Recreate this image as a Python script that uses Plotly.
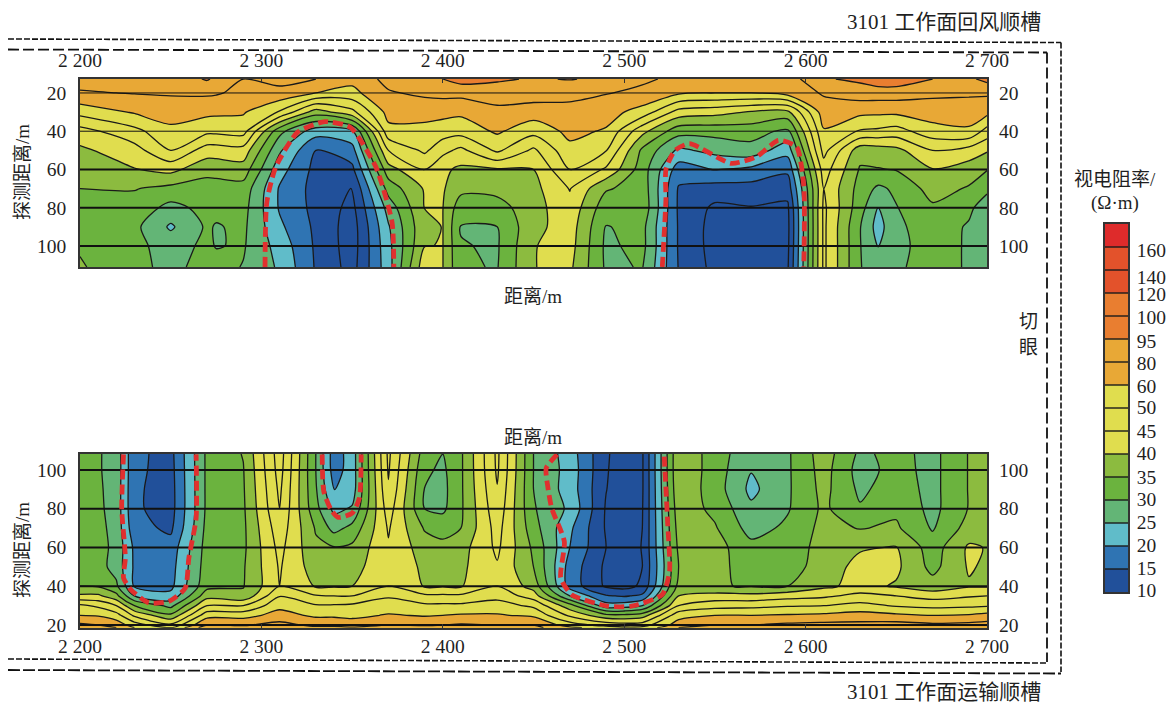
import numpy as np
import plotly.graph_objects as go

W, H = 1169, 703
SERIF = "Liberation Serif, Noto Sans CJK SC, serif"
INK = "#1f1f1f"

# Legend: boundary labels of the sixteen resistivity bands (ohm-m)
legend_labels = ["10", "15", "20", "25", "30", "35", "40", "45", "50", "60", "80", "95", "100", "120", "140", "160"]
legend_tick_pos = [0.09, 1.04, 2.04, 3.04, 4.04, 5.0, 6.04, 7.0, 8.04, 8.96, 9.96, 10.9, 11.96, 12.96, 13.7, 14.87]
band_colors = ["#21509a", "#2f74b3", "#60bcc9", "#63b576", "#6bb33e", "#8cbb3f", "#e0dd4e", "#e0dd4e",
               "#e0dd4e", "#e8a836", "#e8a836", "#e97e30", "#e97e30", "#e3522b", "#e3522b", "#de2b2b"]

x_ticks = [2200, 2300, 2400, 2500, 2600, 2700]
x_tick_labels = ["2 200", "2 300", "2 400", "2 500", "2 600", "2 700"]
depth_ticks = [20, 40, 60, 80, 100]

# Grid values are read as positions on the legend's scale (0 = 10, 1 = 15, ... 15 = 160 ohm-m)
upper_x = [2200, 2230, 2250, 2270, 2275, 2290, 2310, 2330, 2350, 2370, 2390, 2400, 2410, 2430, 2450, 2470, 2490,
           2510, 2530, 2550, 2570, 2590, 2610, 2630, 2640, 2650, 2670, 2690, 2700]
upper_depth = [12.7, 20, 30, 40, 50, 60, 70, 80, 90, 100, 111]
upper_columns = [
    [10.4, 9.9, 8.35, 6.6, 5.8, 5.4, 5.0, 4.9, 4.8, 4.9, 5.1],
    [10.9, 10.05, 9.1, 7.7, 6.6, 5.95, 5.05, 4.6, 4.25, 4.25, 4.3],
    [10.4, 10.1, 9.45, 8.75, 8.0, 6.3, 4.7, 3.7, 2.85, 3.6, 3.7],
    [11.1, 10.15, 9.25, 8.25, 6.5, 5.3, 4.6, 4.3, 4.15, 4.2, 4.4],
    [10.8, 10.1, 9.2, 8.25, 6.5, 5.35, 4.6, 4.3, 3.92, 3.95, 4.35],
    [10.0, 9.75, 9.1, 8.4, 6.6, 5.55, 4.6, 4.35, 4.2, 4.1, 3.95],
    [10.3, 9.7, 7.9, 4.3, 3.15, 2.4, 1.9, 1.9, 2.2, 2.6, 2.85],
    [10.0, 9.0, 5.5, 2.45, 1.0, 0.7, 0.65, 0.7, 0.8, 0.85, 0.9],
    [9.3, 8.7, 6.7, 2.8, 1.6, 0.75, -0.05, -0.3, -0.5, -0.5, -0.4],
    [10.3, 9.9, 9.35, 8.7, 7.0, 5.6, 4.4, 3.4, 2.9, 2.7, 2.6],
    [10.9, 10.2, 9.35, 8.7, 8.2, 7.0, 6.1, 6.02, 5.8, 5.98, 6.6],
    [11.0, 10.3, 9.3, 8.5, 7.3, 6.2, 6.1, 6.02, 6.02, 6.02, 6.02],
    [11.4, 10.3, 9.2, 8.4, 6.75, 5.8, 5.3, 4.4, 3.95, 4.05, 4.1],
    [11.15, 10.45, 9.75, 9.15, 8.2, 5.9, 5.3, 4.6, 4.0, 3.9, 3.95],
    [10.9, 10.5, 9.5, 8.35, 6.8, 6.0, 5.7, 5.6, 5.7, 5.95, 5.98],
    [11.05, 10.3, 9.65, 9.25, 8.75, 8.0, 7.05, 6.7, 6.5, 6.4, 6.2],
    [10.8, 10.05, 9.4, 8.9, 8.05, 6.85, 5.1, 4.4, 3.95, 3.8, 3.85],
    [10.15, 9.8, 8.6, 6.3, 4.8, 4.5, 4.6, 4.7, 4.3, 4.3, 4.05],
    [9.8, 9.15, 6.6, 4.4, 2.8, 1.5, 0.9, 0.85, 0.9, 0.9, 0.95],
    [9.7, 9.0, 6.35, 4.35, 3.3, 2.05, 0.55, -0.2, -0.4, -0.4, -0.3],
    [9.8, 9.0, 5.9, 4.45, 3.6, 1.75, 0.6, -0.05, -0.3, -0.4, -0.4],
    [9.5, 9.4, 5.7, 3.75, 2.4, 1.2, 0.4, -0.2, -0.3, -0.25, -0.15],
    [10.9, 10.1, 9.55, 8.9, 8.35, 7.5, 7.0, 7.2, 7.2, 7.2, 7.2],
    [11.2, 10.5, 9.25, 7.9, 5.4, 4.9, 4.6, 4.4, 4.05, 4.05, 4.05],
    [11.6, 10.5, 9.2, 7.8, 5.5, 4.95, 3.8, 3.0, 2.6, 2.98, 3.5],
    [11.6, 10.5, 9.2, 7.6, 5.7, 5.05, 4.2, 3.95, 3.8, 3.75, 3.85],
    [11.0, 10.2, 9.5, 8.6, 7.0, 5.95, 5.4, 4.85, 4.5, 4.4, 4.4],
    [10.8, 10.15, 9.45, 8.85, 6.6, 5.5, 4.9, 4.2, 3.9, 3.9, 3.9],
    [11.3, 10.15, 9.3, 7.6, 6.1, 5.05, 4.2, 3.5, 3.3, 3.3, 3.3],
]

lower_x = [2200, 2210, 2220, 2230, 2250, 2270, 2290, 2310, 2330, 2340, 2350, 2370, 2390, 2400, 2410, 2430, 2450, 2470,
           2490, 2500, 2510, 2530, 2550, 2570, 2590, 2610, 2630, 2650, 2670, 2690, 2700]
lower_depth = [108.2, 100, 90, 80, 70, 60, 50, 40, 35, 30, 25, 20, 18.6]
lower_columns = [
    [4.4, 4.4, 4.4, 4.4, 4.4, 4.4, 4.4, 5.0, 6.2, 8.2, 9.0, 10.2, 11.0],
    [4.1, 4.1, 4.15, 4.2, 4.3, 4.4, 4.4, 4.9, 6.2, 7.8, 8.9, 10.0, 10.6],
    [3.6, 3.6, 3.6, 3.6, 3.65, 3.7, 3.6, 4.2, 5.3, 7.0, 8.4, 9.6, 10.0],
    [1.2, 1.2, 1.15, 1.15, 1.35, 1.8, 1.85, 1.9, 3.0, 5.0, 6.8, 8.5, 9.0],
    [0.7, 0.65, 0.6, 0.6, 0.8, 1.4, 1.6, 1.75, 2.3, 3.7, 5.2, 7.2, 8.0],
    [4.2, 4.2, 4.2, 4.2, 4.3, 4.4, 4.5, 4.7, 5.6, 7.0, 8.6, 10.0, 10.6],
    [5.05, 4.95, 4.9, 4.85, 4.8, 4.8, 4.9, 4.95, 5.2, 7.0, 8.6, 9.9, 10.3],
    [8.5, 8.4, 8.2, 8.0, 7.6, 7.3, 7.1, 7.0, 7.95, 8.7, 9.4, 10.3, 10.8],
    [4.0, 4.0, 4.1, 4.3, 4.9, 5.2, 5.5, 5.9, 7.1, 8.1, 8.8, 9.8, 10.2],
    [1.5, 1.55, 1.95, 2.75, 3.65, 5.05, 5.5, 5.9, 7.0, 8.1, 8.8, 9.8, 10.2],
    [2.45, 2.45, 2.5, 3.1, 4.3, 5.2, 5.6, 6.0, 7.0, 8.2, 8.7, 9.6, 10.1],
    [8.2, 8.1, 7.9, 7.5, 7.1, 6.9, 6.8, 7.0, 7.9, 8.4, 9.1, 10.0, 10.4],
    [4.5, 4.2, 3.97, 4.0, 4.9, 5.5, 5.8, 5.9, 7.2, 8.2, 8.9, 9.9, 10.4],
    [4.0, 3.8, 3.7, 3.8, 4.6, 5.3, 5.7, 5.9, 7.2, 8.2, 9.0, 10.0, 10.4],
    [4.85, 4.85, 4.85, 4.85, 5.0, 5.6, 5.8, 5.9, 7.2, 8.2, 9.1, 10.1, 10.5],
    [8.2, 8.15, 7.95, 7.7, 7.4, 7.2, 6.9, 7.0, 7.7, 8.4, 9.1, 10.0, 10.3],
    [4.0, 4.0, 4.0, 4.1, 4.4, 4.8, 5.0, 5.6, 6.5, 7.8, 8.8, 10.0, 10.3],
    [2.5, 2.6, 2.55, 2.8, 2.2, 2.0, 1.6, 1.6, 3.0, 5.4, 6.8, 8.5, 9.2],
    [0.15, 0.1, 0.03, -0.1, -0.1, 0.0, -0.2, -0.15, 1.1, 2.4, 5.3, 7.6, 8.6],
    [-0.6, -0.6, -0.6, -0.7, -0.7, -0.6, -0.6, -0.35, 0.9, 2.5, 5.2, 7.4, 8.2],
    [-0.1, -0.1, -0.1, -0.05, 0.0, 0.05, 0.0, 0.2, 1.2, 3.0, 5.5, 7.5, 8.3],
    [5.9, 5.9, 5.8, 5.6, 5.4, 5.2, 5.0, 5.3, 6.0, 7.0, 8.6, 9.5, 10.0],
    [4.5, 4.5, 4.5, 4.75, 5.1, 5.4, 5.35, 5.05, 6.4, 7.6, 9.0, 10.0, 10.5],
    [3.3, 3.05, 2.75, 3.2, 3.6, 4.3, 4.5, 4.95, 6.3, 7.7, 9.0, 10.0, 10.5],
    [3.85, 3.85, 3.85, 3.9, 4.2, 4.4, 4.5, 5.0, 6.6, 7.9, 9.1, 10.2, 10.6],
    [5.5, 5.4, 5.3, 5.2, 5.3, 5.4, 5.5, 5.8, 6.8, 8.0, 9.2, 10.3, 10.8],
    [3.8, 3.6, 3.8, 4.1, 4.95, 5.9, 6.3, 6.3, 7.3, 8.3, 9.4, 10.3, 10.7],
    [4.3, 4.35, 4.5, 4.8, 5.15, 6.05, 6.2, 5.9, 7.0, 7.9, 9.2, 10.4, 10.7],
    [3.7, 3.7, 3.7, 3.7, 3.9, 4.5, 4.7, 5.4, 6.6, 7.7, 9.0, 10.2, 10.6],
    [5.05, 5.05, 5.05, 5.05, 5.4, 6.15, 6.1, 5.9, 6.9, 7.8, 9.1, 10.3, 10.7],
    [5.3, 5.3, 5.3, 5.4, 5.5, 5.95, 5.85, 5.9, 7.0, 7.9, 9.3, 10.4, 10.8],
]

# Red dashed anomaly outlines: distance (m) and probing depth (m)
upper_red_x = [[2302, 2303, 2308, 2320, 2335, 2349, 2363, 2372, 2373],
               [2521, 2523, 2523, 2528, 2536, 2559, 2573, 2585, 2595, 2599, 2599]]
upper_red_d = [[111, 77, 58.5, 40.5, 35, 38, 58.5, 87.5, 111],
               [111, 75.6, 60, 50, 46.5, 56.8, 53.3, 44.8, 48.2, 68.7, 111]]
lower_red_x = [[2224, 2223, 2225, 2224, 2228, 2238, 2249, 2258, 2260, 2264, 2264],
               [2333.5, 2334.4, 2338.4, 2342.3, 2350, 2354, 2355],
               [2463, 2457, 2458, 2460, 2467, 2465, 2471, 2491, 2504, 2521, 2525, 2524, 2522]]
lower_red_d = [[108, 80, 54.5, 44.3, 38.3, 31.4, 32.2, 39, 54.5, 75, 108],
               [108, 88.9, 79.4, 75.5, 77.7, 85.4, 108],
               [108, 100.9, 90.6, 80.3, 63, 44.3, 35.7, 29.7, 29.7, 35.7, 47.7, 71.7, 108]]


def px_x(p):
    return p / W


def px_y(p):
    return 1 - p / H


stops = [[0, band_colors[0]]] + [[(k + 1) / 16, c] for k, c in enumerate(band_colors)]
fig = go.Figure()


def add_panel(xs, ds, cols, red_x, red_d, xa, ya, xr, widths):
    z = np.array(cols).T.tolist()
    fig.add_trace(go.Contour(
        x=xs, y=ds, z=z, xaxis=xa, yaxis=ya, showscale=False, autocontour=False,
        contours=dict(start=0, end=15, size=1, coloring="fill", showlines=True),
        colorscale=stops, line=dict(color="#1a1a1a", width=1.3, smoothing=0.8), hoverinfo="skip"))
    for d, w in zip(depth_ticks, widths):
        fig.add_trace(go.Scatter(x=xr, y=[d, d], xaxis=xa, yaxis=ya, mode="lines", showlegend=False,
                                 line=dict(color="#111111", width=w), hoverinfo="skip"))
    for rx, rd in zip(red_x, red_d):
        fig.add_trace(go.Scatter(x=rx, y=rd, xaxis=xa, yaxis=ya, mode="lines", showlegend=False,
                                 line=dict(color="#e0302f", width=4.8, dash="10px,5px", shape="spline", smoothing=0.6),
                                 hoverinfo="skip"))


add_panel(upper_x, upper_depth, upper_columns, upper_red_x, upper_red_d, "x", "y", [2200, 2700], [1, 1, 2, 2, 2])
add_panel(lower_x, lower_depth, lower_columns, lower_red_x, lower_red_d, "x2", "y3", [2200, 2700], [2, 2, 2, 2, 2])
fig.add_trace(go.Scatter(x=[], y=[], xaxis="x", yaxis="y2", showlegend=False))
fig.add_trace(go.Scatter(x=[], y=[], xaxis="x2", yaxis="y4", showlegend=False))

# Legend bar
band_ids = list(range(16))
fig.add_trace(go.Heatmap(x=[0], y=[i + 0.5 for i in band_ids], z=[[i] for i in band_ids], xaxis="x3", yaxis="y5",
                         zmin=-0.5, zmax=15.5, showscale=False, hoverinfo="skip",
                         colorscale=[[(i + 0.5) / 16 + s, band_colors[i]] for i in band_ids for s in (-0.5 / 16, 0.5 / 16)]))
sep_x, sep_y = [], []
for i in band_ids[1:]:
    sep_x += [-0.5, 0.5, None]
    sep_y += [i, i, None]
fig.add_trace(go.Scatter(x=sep_x, y=sep_y, xaxis="x3", yaxis="y5", mode="lines", showlegend=False,
                         line=dict(color="#1a1a1a", width=1.4), hoverinfo="skip"))

tick_font = dict(family=SERIF, size=19.5, color=INK)
frame = dict(showline=True, linecolor="#333333", linewidth=1.5, mirror=True, showgrid=False, zeroline=False,
             automargin=False)
x_common = dict(range=[2200, 2700], tickmode="array", tickvals=x_ticks, ticktext=x_tick_labels,
                tickfont=tick_font, ticks="inside", ticklen=4, tickwidth=1, tickcolor="#333333", **frame)
y_common = dict(tickmode="array", tickvals=depth_ticks, ticktext=[str(d) for d in depth_ticks], tickfont=tick_font,
                ticks="", showgrid=False, zeroline=False, automargin=False)

ux = [80, 987]
udom = [px_y(267), px_y(79)]
ldom = [px_y(627.7), px_y(454)]
urange = [111, 12.7]
lrange = [18.6, 108.2]

fig.update_layout(
    width=W, height=H, margin=dict(l=0, r=0, t=0, b=0, autoexpand=False), paper_bgcolor="white", plot_bgcolor="white",
    showlegend=False, font=dict(family=SERIF, color=INK),
    xaxis=dict(domain=[px_x(ux[0]), px_x(ux[1])], side="top", anchor="y", ticklabelstandoff=2, **x_common),
    yaxis=dict(domain=udom, range=urange, anchor="x", side="left", showline=True, linecolor="#333333",
               linewidth=1.5, mirror=True, ticklabelstandoff=8, **y_common),
    yaxis2=dict(range=urange, overlaying="y", anchor="x", side="right", ticklabelstandoff=11, **y_common),
    xaxis2=dict(domain=[px_x(ux[0]), px_x(ux[1])], side="bottom", anchor="y3", ticklabelstandoff=0, **x_common),
    yaxis3=dict(domain=ldom, range=lrange, anchor="x2", side="left", showline=True, linecolor="#333333",
                linewidth=1.5, mirror=True, ticklabelstandoff=8, **y_common),
    yaxis4=dict(range=lrange, overlaying="y3", anchor="x2", side="right", ticklabelstandoff=11, **y_common),
    xaxis3=dict(domain=[px_x(1105), px_x(1128)], range=[-0.5, 0.5], anchor="y5", showticklabels=False, ticks="",
                **frame),
    yaxis5=dict(domain=[px_y(592), px_y(224)], range=[0, 16], anchor="x3", side="right", tickmode="array",
                tickvals=legend_tick_pos, ticktext=legend_labels, tickfont=tick_font, ticks="", ticklabelstandoff=3,
                **frame),
)

texts = [
    ("距离/m", 533, 296, 19, 0), ("距离/m", 533, 437, 19, 0),
    ("3101 工作面回风顺槽", 944, 22, 21, 0), ("3101 工作面运输顺槽", 944, 692, 21, 0),
    ("切", 1028, 321, 19, 0), ("眼", 1028, 347, 19, 0),
    ("视电阻率/", 1115, 179, 19, 0), ("(Ω·m)", 1115, 203, 19, 0),
    ("探测距离/m", 22, 172, 19, -90), ("探测距离/m", 22, 550, 19, -90),
]
fig.update_layout(annotations=[
    dict(text=t, x=px_x(x), y=px_y(y), xref="paper", yref="paper", showarrow=False, xanchor="center", yanchor="middle",
         textangle=a, font=dict(family=SERIF, size=s, color=INK))
    for t, x, y, s, a in texts
])

# Roadway outlines around the two panels
outlines = [
    ([8, 1061, 1061], [39, 42.5, 672], "6px,2px", 1.6),
    ([8, 1061], [670, 673.5], "12px,3px", 1.8),
    ([8, 1047, 1047], [49.5, 52.5, 662], "11px,4px", 1.8),
    ([8, 1047], [659, 663], "6px,2px", 1.6),
]
shapes = []
for xs, ys, dash, w in outlines:
    for i in range(len(xs) - 1):
        shapes.append(dict(type="line", xref="paper", yref="paper", x0=px_x(xs[i]), x1=px_x(xs[i + 1]),
                           y0=px_y(ys[i]), y1=px_y(ys[i + 1]), line=dict(color="#111111", width=w, dash=dash)))
fig.update_layout(shapes=shapes)

fig.write_html("out.html", config=dict(displayModeBar=False),
               post_script="document.body.style.margin='0';document.documentElement.style.overflow='hidden';")
